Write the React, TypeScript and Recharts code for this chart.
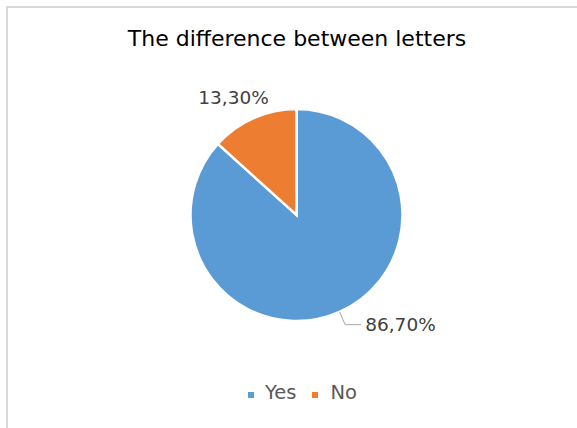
import { PieChart, Pie, Cell, Legend } from 'recharts'

const categories = ['Yes', 'No']
const shares = [86.7, 13.3]
const labels = ['86,70%', '13,30%']
const colors = ['#5B9BD5', '#ED7D31']

const data = categories.map((name, i) => ({ name, value: shares[i], label: labels[i] }))

const RAD = Math.PI / 180
const FONT = '"DejaVu Sans", Tahoma, sans-serif'

const renderLabel = (props: any) => {
  const { cx, cy, midAngle, outerRadius, index } = props
  const cos = Math.cos(-midAngle * RAD)
  const sin = Math.sin(-midAngle * RAD)
  if (index === 0) {
    // leader line with elbow, text to the right
    const sx = cx + outerRadius * cos
    const sy = cy + outerRadius * sin
    const mx = cx + (outerRadius + 14) * cos
    const my = cy + (outerRadius + 14) * sin
    const ex = mx + 16
    return (
      <g>
        <polyline points={`${sx},${sy} ${mx},${my} ${ex},${my}`} fill="none" stroke="#a6a6a6" strokeWidth={1} />
        <text x={ex + 4} y={my} dy={6} textAnchor="start" fill="#404040" fontSize={18.5} fontFamily={FONT}>
          {data[index].label}
        </text>
      </g>
    )
  }
  const x = cx + (outerRadius + 22) * cos
  const y = cy + (outerRadius + 22) * sin
  return (
    <text x={x - 11} y={y} dy={6} textAnchor="middle" fill="#404040" fontSize={18.5} fontFamily={FONT}>
      {data[index].label}
    </text>
  )
}

const renderLegend = () => (
  <div style={{ display: 'flex', justifyContent: 'center', fontFamily: FONT, fontSize: 19.5, color: '#595959', lineHeight: '22px' }}>
    {data.map((d, i) => (
      <div key={d.name} style={{ display: 'flex', alignItems: 'center', marginRight: i === 0 ? 16 : 0 }}>
        <span style={{ width: 6, height: 6, background: colors[i], marginRight: i === 0 ? 11 : 12, marginTop: 4, display: 'inline-block' }} />
        <span>{d.name}</span>
      </div>
    ))}
  </div>
)

export default function App() {
  return (
    <div style={{ position: 'absolute', left: 0, top: 0, width: 577, height: 428, overflow: 'hidden', background: '#fff' }}>
      <div style={{ position: 'absolute', left: 6, top: 6, width: 620, height: 460, border: '2px solid #d9d9d9', boxSizing: 'border-box' }} />
      <div style={{ position: 'absolute', left: 0, top: 26, width: 594, textAlign: 'center', fontFamily: FONT, fontSize: 22, color: '#000' }}>
        The difference between letters
      </div>
      <div style={{ position: 'absolute', left: 0, top: 0 }}>
        <PieChart width={577} height={428}>
          <Pie
            data={data}
            dataKey="value"
            nameKey="name"
            cx={291.5}
            cy={210}
            outerRadius={106}
            startAngle={90}
            endAngle={-270}
            stroke="#fff"
            strokeWidth={2.5}
            label={renderLabel}
            labelLine={false}
            isAnimationActive={false}
          >
            {data.map((d, i) => (
              <Cell key={d.name} fill={colors[i]} />
            ))}
          </Pie>
          <Legend content={renderLegend} wrapperStyle={{ position: 'absolute', top: 382, left: 0, width: 605 }} />
        </PieChart>
      </div>
    </div>
  )
}
